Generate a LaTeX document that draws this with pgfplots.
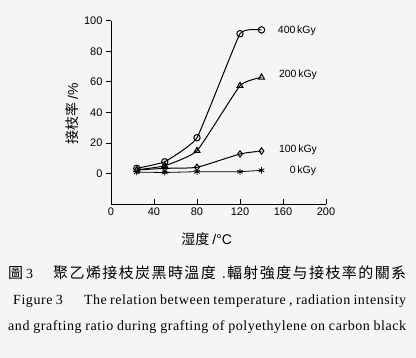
\documentclass[border=0pt]{standalone}
\usepackage{fontspec}
\setmainfont{Liberation Sans}
\newfontfamily\serifEN{Liberation Serif}[LetterSpace=4]
\newfontfamily\cjk{Noto Sans CJK TC}
\usepackage{pgfplots}
\pgfplotsset{compat=1.18}
\begin{document}
\begin{tikzpicture}
\useasboundingbox (0,0) rectangle (416pt,358pt);
\fill[white!96!black] (0,0) rectangle (416pt,358pt);
\begin{axis}[
  at={(111pt,153.7pt)}, anchor=south west,
  scale only axis, width=215pt, height=183.6pt,
  xmin=0, xmax=200, ymin=-20, ymax=100,
  axis x line=bottom, axis y line=left,
  axis line style={-, line width=0.9pt},
  xtick={0,40,80,120,160,200},
  ytick={0,20,40,60,80,100},
  tick style={line width=0.9pt, black},
  major tick length=5pt,
  xtick align=inside, ytick align=outside,
  tick label style={font=\fontsize{11}{13}\selectfont},
  /pgf/number format/assume math mode=true,
  xlabel={\cjk 湿度\ \fontspec{Liberation Sans}/°C},
  xlabel style={at={(axis description cs:0.445,-0.19)}, anchor=center, font=\fontsize{14}{16}\selectfont},
  ylabel={\cjk 接枝率\ \fontspec{Liberation Sans}/\%},
  ylabel style={at={(axis description cs:-0.179,0.492)}, anchor=center, font=\fontsize{14}{16}\selectfont},
  clip=false,
]
\addplot[black, line width=1pt, smooth, tension=0.2, mark=o, mark size=3.2pt, mark options={solid, fill=white}]
  coordinates {(24,3.5) (50,7.8) (80,23.5) (120,91.5) (140,94)};
\addplot[black, line width=1pt, smooth, tension=0.25, mark=triangle, mark size=3.4pt, mark options={solid, fill=white}]
  coordinates {(24,2.5) (50,5.2) (80,15) (120,57.5) (140,63)};
\addplot[black, line width=1pt, smooth, tension=0.3, mark=diamond, mark size=3.2pt, mark options={solid, fill=white}]
  coordinates {(24,2.4) (50,3.5) (80,4.2) (120,12.9) (140,14.8)};
\addplot[black, line width=0.8pt, mark=asterisk, mark size=3.2pt, mark options={solid}]
  coordinates {(24,1) (50,0.8) (80,1.3) (120,1.3) (140,2.2)};
\node[anchor=west, font=\fontsize{10.5}{12}\selectfont] at (axis cs:152,93.3) {400\,kGy};
\node[anchor=west, font=\fontsize{10.5}{12}\selectfont] at (axis cs:153,64.5) {200\,kGy};
\node[anchor=west, font=\fontsize{10.5}{12}\selectfont] at (axis cs:153,15.5) {100\,kGy};
\node[anchor=west, font=\fontsize{10.5}{12}\selectfont] at (axis cs:163,1.8) {0\,kGy};
\end{axis}
\node[anchor=west, inner sep=0pt, font=\cjk\fontsize{15}{17}\selectfont] at (8pt,85.5pt)
  {\hbox to 398pt{圖\hspace{3pt}{\serifEN\fontsize{14}{16}\selectfont 3}\hspace{20pt}聚\hfill 乙\hfill 烯\hfill 接\hfill 枝\hfill 炭\hfill 黑\hfill 時\hfill 溫\hfill 度\hspace{6pt}{\fontspec{Liberation Sans}.}\hspace{1pt}輻\hfill 射\hfill 強\hfill 度\hfill 与\hfill 接\hfill 枝\hfill 率\hfill 的\hfill 關\hfill 系}};
\node[anchor=west, inner sep=0pt, font=\serifEN\fontsize{14}{16}\selectfont] at (13pt,57pt)
  {\makebox[393pt][s]{Figure 3\hspace{18pt} The relation between temperature , radiation intensity}};
\node[anchor=west, inner sep=0pt, font=\serifEN\fontsize{14}{16}\selectfont] at (8pt,31.3pt)
  {\makebox[398pt][s]{and grafting ratio during grafting of polyethylene on carbon black}};
\end{tikzpicture}
\end{document}
